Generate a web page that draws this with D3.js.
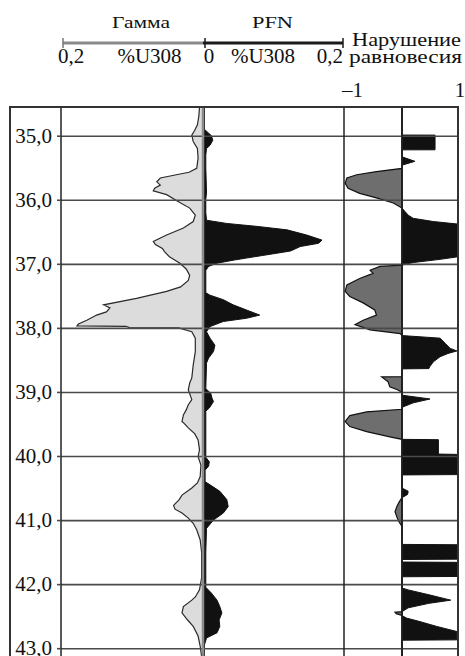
<!DOCTYPE html>
<html>
<head>
<meta charset="utf-8">
<script src="https://cdn.jsdelivr.net/npm/d3@7"></script>
<style>
  body { margin: 0; background: #fff; }
  text { font-family: 'Liberation Serif', 'Times New Roman', serif; fill: #111; }
</style>
</head>
<body>
<div id="chart"></div>
<script>
// depth ticks (m)
const depthTicks = [35, 36, 37, 38, 39, 40, 41, 42, 43];

// gamma log, %U3O8 : [depth, value]
const gamma = [
  [34.56, 0.005], [34.70, 0.006], [34.83, 0.008], [34.92, 0.012], [34.99, 0.016],
  [35.09, 0.014], [35.20, 0.008], [35.35, 0.007], [35.51, 0.009], [35.57, 0.020],
  [35.61, 0.038], [35.66, 0.061], [35.72, 0.066], [35.77, 0.061], [35.82, 0.069],
  [35.86, 0.071], [35.92, 0.052], [36.03, 0.035], [36.13, 0.019], [36.24, 0.011],
  [36.34, 0.014], [36.44, 0.028], [36.55, 0.052], [36.65, 0.071], [36.70, 0.068],
  [36.76, 0.058], [36.81, 0.055], [36.89, 0.048], [36.99, 0.033], [37.08, 0.024],
  [37.18, 0.019], [37.26, 0.021], [37.36, 0.032], [37.43, 0.052], [37.54, 0.095],
  [37.64, 0.142], [37.69, 0.133], [37.75, 0.138], [37.80, 0.152], [37.88, 0.166],
  [37.94, 0.178], [37.97, 0.180], [37.975, 0.110], [37.995, 0.105], [38.00, 0.035],
  [38.06, 0.016], [38.16, 0.011], [38.37, 0.011], [38.58, 0.014], [38.78, 0.016],
  [38.86, 0.019], [38.97, 0.021], [39.12, 0.016], [39.20, 0.021], [39.28, 0.024],
  [39.36, 0.028], [39.46, 0.030], [39.49, 0.027], [39.56, 0.021], [39.65, 0.012],
  [39.75, 0.007], [39.90, 0.005], [40.01, 0.007], [40.14, 0.003], [40.32, 0.004],
  [40.42, 0.008], [40.50, 0.016], [40.61, 0.030], [40.68, 0.034], [40.77, 0.042],
  [40.83, 0.040], [40.89, 0.030], [40.97, 0.021], [41.05, 0.014], [41.15, 0.009],
  [41.31, 0.004], [41.50, 0.002], [41.90, 0.002], [42.09, 0.005], [42.20, 0.011],
  [42.25, 0.016], [42.35, 0.028], [42.45, 0.030], [42.56, 0.022], [42.66, 0.014],
  [42.81, 0.007], [42.97, 0.004], [43.13, 0.002]
];

// PFN log, %U3O8 : [depth, value]
const pfn = [
  [34.56, 0.002], [34.90, 0.002], [34.96, 0.008], [35.00, 0.012], [35.07, 0.014],
  [35.15, 0.010], [35.20, 0.005], [35.30, 0.004], [35.50, 0.004], [35.88, 0.005],
  [36.00, 0.004], [36.20, 0.004], [36.32, 0.005], [36.37, 0.034], [36.42, 0.081],
  [36.47, 0.120], [36.55, 0.148], [36.63, 0.170], [36.68, 0.165], [36.73, 0.139],
  [36.80, 0.125], [36.87, 0.085], [36.91, 0.062], [36.94, 0.045], [36.99, 0.020],
  [37.04, 0.008], [37.10, 0.004], [37.45, 0.004], [37.49, 0.010], [37.56, 0.029],
  [37.64, 0.043], [37.72, 0.062], [37.80, 0.081], [37.85, 0.062], [37.90, 0.029],
  [37.98, 0.010], [38.06, 0.005], [38.16, 0.010], [38.27, 0.017], [38.37, 0.015],
  [38.47, 0.008], [38.55, 0.005], [38.95, 0.004], [39.02, 0.011], [39.10, 0.013],
  [39.15, 0.015], [39.25, 0.009], [39.30, 0.004], [40.02, 0.004], [40.09, 0.009],
  [40.16, 0.008], [40.22, 0.003], [40.40, 0.003], [40.45, 0.010], [40.55, 0.024],
  [40.68, 0.034], [40.79, 0.036], [40.89, 0.029], [41.00, 0.015], [41.13, 0.005],
  [41.50, 0.004], [42.05, 0.004], [42.14, 0.012], [42.25, 0.020], [42.35, 0.024],
  [42.45, 0.027], [42.56, 0.023], [42.66, 0.024], [42.76, 0.020], [42.84, 0.005],
  [42.95, 0.002], [43.13, 0.002]
];

// radioactive disequilibrium, -1..1 : [depth, value]
const diseq = [
  [34.56, 0], [34.99, 0], [34.991, 0.59], [35.22, 0.59], [35.221, 0], [35.33, 0],
  [35.40, 0.23], [35.46, 0], [35.51, 0], [35.56, -0.44], [35.61, -0.78], [35.66, -0.95],
  [35.74, -0.98], [35.82, -0.93], [35.90, -0.73], [35.97, -0.44], [36.05, -0.15],
  [36.13, 0], [36.24, 0.11], [36.29, 0.2], [36.34, 0.56], [36.38, 1.0], [36.89, 1.0],
  [36.93, 0.68], [36.98, 0.2], [37.02, 0], [37.04, -0.38], [37.10, -0.55], [37.15, -0.5],
  [37.23, -0.73], [37.33, -0.95], [37.43, -0.98], [37.51, -0.9], [37.61, -0.67],
  [37.72, -0.47], [37.80, -0.44], [37.88, -0.67], [37.95, -0.81], [38.03, -0.55],
  [38.09, -0.03], [38.12, 0], [38.16, 0.68], [38.24, 0.77], [38.32, 0.86], [38.36, 0.98],
  [38.40, 0.82], [38.45, 0.68], [38.53, 0.56], [38.60, 0.5], [38.635, 0.48], [38.64, 0],
  [38.76, 0], [38.765, -0.35], [38.84, -0.24], [38.92, -0.21], [38.97, -0.07], [39.01, 0],
  [39.05, 0], [39.11, 0.5], [39.17, 0.2], [39.24, 0], [39.27, 0], [39.31, -0.61],
  [39.37, -0.9], [39.46, -0.98], [39.54, -0.9], [39.62, -0.61], [39.70, -0.21], [39.74, 0],
  [39.745, 0.65], [39.97, 0.65], [39.975, 1.0], [40.29, 1.0], [40.295, 0], [40.50, 0],
  [40.55, 0.11], [40.60, 0.1], [40.65, 0], [40.72, -0.05], [40.79, -0.09], [40.87, -0.12],
  [40.95, -0.09], [41.03, -0.05], [41.10, 0], [41.38, 0], [41.385, 1], [41.61, 1],
  [41.615, 0], [41.655, 0], [41.66, 1], [41.88, 1], [41.885, 0], [42.06, 0], [42.09, 0.11],
  [42.17, 0.5], [42.25, 0.87], [42.30, 0.48], [42.37, 0.11], [42.43, 0], [42.44, -0.12],
  [42.46, -0.1], [42.49, 0], [42.53, 0.08], [42.58, 0.3], [42.66, 0.62], [42.74, 0.98],
  [42.87, 0.98], [42.875, 0], [43.13, 0]
];

const width = 465, height = 656;
const frame = {left: 10, top: 107, right: 458};
const plotLeft = 61;

const svg = d3.select('#chart').append('svg')
  .attr('width', width)
  .attr('height', height);

svg.append('rect').attr('width', width).attr('height', height).attr('fill', '#fff');

const y = d3.scaleLinear().domain([35, 43]).range([135.7, 648.2]);
const xG = d3.scaleLinear().domain([0, 0.2]).range([203, 63]);
const xP = d3.scaleLinear().domain([0, 0.2]).range([203, 343]);
const xD = d3.scaleLinear().domain([-1, 0, 1]).range([344, 402, 458]);

// ---- header ----
const head = svg.append('g');
head.append('text').attr('x', 112).attr('y', 28)
  .attr('textLength', 58).attr('lengthAdjust', 'spacingAndGlyphs')
  .style('font-size', '17px').text('Гамма');
head.append('text').attr('x', 252).attr('y', 28)
  .attr('textLength', 41).attr('lengthAdjust', 'spacingAndGlyphs')
  .style('font-size', '17px').text('PFN');

head.append('line')
  .attr('x1', xG(0.2)).attr('x2', xG(0)).attr('y1', 43).attr('y2', 43)
  .attr('stroke', '#8a8a8a').attr('stroke-width', 3);
head.append('line')
  .attr('x1', xP(0)).attr('x2', xP(0.2)).attr('y1', 43).attr('y2', 43)
  .attr('stroke', '#1a1a1a').attr('stroke-width', 3);
[[xG(0.2), '#777'], [xP(0) + 2, '#1a1a1a'], [xP(0.2), '#1a1a1a']].forEach(t => {
  head.append('line').attr('x1', t[0]).attr('x2', t[0]).attr('y1', 38).attr('y2', 48)
    .attr('stroke', t[1]).attr('stroke-width', 1.5);
});

const unitRow = [
  {x: xG(0.2) - 5, a: 'start', t: '0,2'},
  {x: 149.5, a: 'middle', t: '%U308'},
  {x: xP(0) + 6, a: 'middle', t: '0'},
  {x: 263, a: 'middle', t: '%U308'},
  {x: xP(0.2), a: 'end', t: '0,2'}
];
head.selectAll('.unit').data(unitRow).enter().append('text')
  .attr('class', 'unit')
  .attr('x', d => d.x).attr('y', 63)
  .attr('text-anchor', d => d.a)
  .style('font-size', '21px')
  .text(d => d.t);

head.append('text').attr('x', 352).attr('y', 46)
  .attr('textLength', 109).attr('lengthAdjust', 'spacingAndGlyphs')
  .style('font-size', '19px').text('Нарушение');
head.append('text').attr('x', 349).attr('y', 63)
  .attr('textLength', 113).attr('lengthAdjust', 'spacingAndGlyphs')
  .style('font-size', '19px').text('равновесия');
head.append('text').attr('x', xD(-1) + 19).attr('y', 97).attr('text-anchor', 'end')
  .style('font-size', '21px').text('–1');
head.append('text').attr('x', xD(1) + 2).attr('y', 97).attr('text-anchor', 'middle')
  .style('font-size', '21px').text('1');

// ---- plot body ----
svg.append('clipPath').attr('id', 'plotClip')
  .append('rect')
  .attr('x', plotLeft).attr('y', frame.top)
  .attr('width', frame.right - plotLeft).attr('height', height - frame.top);

const body = svg.append('g').attr('clip-path', 'url(#plotClip)');

const gammaArea = d3.area()
  .y(d => y(d[0]))
  .x0(xG(0))
  .x1(d => xG(d[1]));
body.append('path').datum(gamma)
  .attr('d', gammaArea)
  .attr('fill', '#dcdcdc')
  .attr('stroke', '#2a2a2a')
  .attr('stroke-width', 1.2);

const pfnArea = d3.area()
  .y(d => y(d[0]))
  .x0(xP(0))
  .x1(d => xP(d[1]));
body.append('path').datum(pfn)
  .attr('d', pfnArea)
  .attr('fill', '#111')
  .attr('stroke', '#111')
  .attr('stroke-width', 1);

// disequilibrium: negative part grey, positive part black
const negArea = d3.area()
  .y(d => y(d[0]))
  .x0(xD(0))
  .x1(d => xD(Math.min(d[1], 0)));
const posArea = d3.area()
  .y(d => y(d[0]))
  .x0(xD(0))
  .x1(d => xD(Math.max(d[1], 0)));
body.append('path').datum(diseq)
  .attr('d', negArea)
  .attr('fill', '#6e6e6e')
  .attr('stroke', '#111')
  .attr('stroke-width', 1.2);
body.append('path').datum(diseq)
  .attr('d', posArea)
  .attr('fill', '#111')
  .attr('stroke', '#111')
  .attr('stroke-width', 1);

// grid on top of the curves
body.append('g')
  .attr('transform', 'translate(' + plotLeft + ',0)')
  .call(d3.axisRight(y).tickValues(depthTicks).tickSize(frame.right - plotLeft).tickFormat(''))
  .call(g => g.select('.domain').remove())
  .call(g => g.selectAll('line').attr('stroke', '#4a4a4a').attr('stroke-width', 1.6));

// vertical track lines
[xD(-1), xD(0)].forEach(x => {
  svg.append('line').attr('x1', x).attr('x2', x).attr('y1', frame.top).attr('y2', height)
    .attr('stroke', '#222').attr('stroke-width', 1.5);
});
svg.append('line').attr('x1', xG(0)).attr('x2', xG(0)).attr('y1', frame.top).attr('y2', height)
  .attr('stroke', '#8a8a8a').attr('stroke-width', 2.5);

// depth axis
svg.append('g')
  .attr('transform', 'translate(' + plotLeft + ',0)')
  .call(d3.axisLeft(y).tickValues(depthTicks).tickSize(4).tickPadding(5)
    .tickFormat(d => d3.format('.1f')(d).replace('.', ',')))
  .call(g => g.select('.domain').attr('d', 'M0,' + frame.top + 'V' + height)
    .attr('stroke', '#222').attr('stroke-width', 1.5))
  .call(g => g.selectAll('.tick line').attr('stroke', '#4a4a4a').attr('stroke-width', 1.6))
  .call(g => g.selectAll('.tick text')
    .style('font-family', "'Liberation Serif', 'Times New Roman', serif")
    .style('font-size', '21px').attr('fill', '#111'));

// outer frame
svg.append('path')
  .attr('d', 'M' + frame.left + ',' + (height + 2) + 'V' + frame.top + 'H' + frame.right + 'V' + (height + 2))
  .attr('fill', 'none')
  .attr('stroke', '#333')
  .attr('stroke-width', 2);
</script>
</body>
</html>
